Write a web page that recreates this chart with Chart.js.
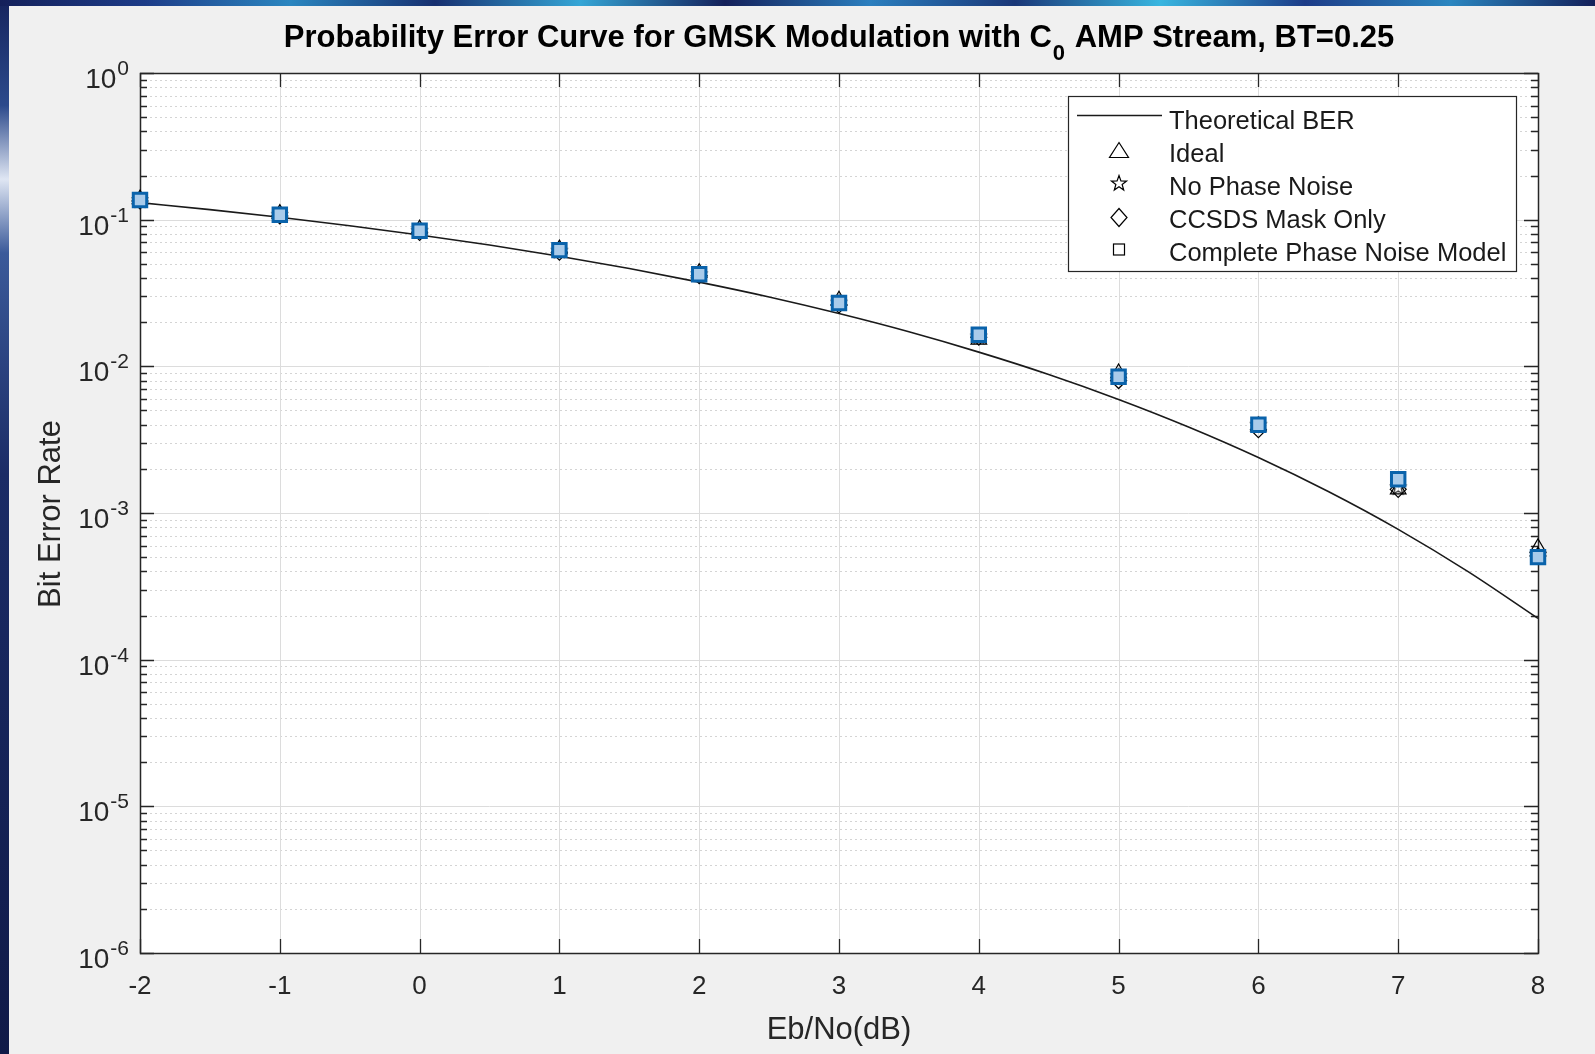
<!DOCTYPE html>
<html><head><meta charset="utf-8">
<script src="https://cdn.jsdelivr.net/npm/chart.js@4.4.1/dist/chart.umd.min.js"></script>
<style>
html,body{margin:0;padding:0;background:#f0f0f0;overflow:hidden}
#wrap{position:absolute;left:0;top:0;width:1595px;height:1054px}
</style>
</head><body>
<div id="wrap"><canvas id="c" width="1595" height="1054"></canvas></div>
<script>
// ---------- DATA ----------
const ebnoTheory = [-2,-1.5,-1,-0.5,0,0.5,1,1.5,2,2.5,3,3.5,4,4.5,5,5.5,6,6.5,7,7.5,8];
const berTheory  = [0.1306,0.1170,0.1038,0.0909,0.0786,0.0671,0.0563,0.0464,0.0375,0.0297,0.0229,0.0172,0.0125,0.0088,0.00595,0.00386,0.00239,0.00140,0.000773,0.000398,0.000191];
const ebnoSim    = [-2,-1,0,1,2,3,4,5,6,7,8];
const berIdeal        = [0.138,0.110,0.086,0.063,0.0435,0.0282,0.0152,0.0090,0.0039,0.00145,0.00058];
const berNoPhaseNoise = [0.136,0.108,0.084,0.0615,0.0425,0.0272,0.0160,0.0086,0.0040,0.00150,0.00052];
const berCcsdsMask    = [0.134,0.106,0.082,0.0600,0.0415,0.0262,0.0158,0.0080,0.0037,0.00145,0.00051];
const berComplete     = [0.136,0.108,0.084,0.0620,0.0425,0.0270,0.0164,0.0085,0.0040,0.00170,0.00050];
const xTickValues = [-2,-1,0,1,2,3,4,5,6,7,8];
const xTickLabels = ['-2','-1','0','1','2','3','4','5','6','7','8'];
const yTickExponents = [0,-1,-2,-3,-4,-5,-6];
const seriesNames = ['Theoretical BER','Ideal','No Phase Noise','CCSDS Mask Only','Complete Phase Noise Model'];
const titleMain = 'Probability Error Curve for GMSK Modulation with C';
const titleSub = '0';
const titleRest = ' AMP Stream, BT=0.25';
const xLabel = 'Eb/No(dB)';
const yLabel = 'Bit Error Rate';

const FONT = '"Liberation Sans", Arial, Helvetica, sans-serif';
const TXT = '#262626';

function pts(xs, ys){ return xs.map((x,i)=>({x:x, y:ys[i]})); }

function starPath(ctx, cx, cy, ro, ri){
  ctx.beginPath();
  for(let k=0;k<10;k++){
    const r = k%2===0 ? ro : ri;
    const a = -Math.PI/2 + k*Math.PI/5;
    const px = cx + r*Math.cos(a), py = cy + r*Math.sin(a);
    if(k===0) ctx.moveTo(px,py); else ctx.lineTo(px,py);
  }
  ctx.closePath();
}
const starCanvas = document.createElement('canvas');
starCanvas.width = 20; starCanvas.height = 20;
(function(){ const s = starCanvas.getContext('2d'); s.strokeStyle='#000'; s.lineWidth=1.1; starPath(s,10,10.5,8,3.3); s.stroke(); })();

const bgPlugin = {
  id:'bg',
  beforeDraw(chart){
    const ctx = chart.ctx, W = chart.width, H = chart.height;
    ctx.save();
    ctx.fillStyle = '#f0f0f0'; ctx.fillRect(0,0,W,H);
    const gl = ctx.createLinearGradient(0,0,0,H);
    gl.addColorStop(0,'#16245e'); gl.addColorStop(0.1,'#2c4a8c'); gl.addColorStop(0.17,'#dfe6f3');
    gl.addColorStop(0.24,'#3b5a9a'); gl.addColorStop(0.45,'#1b2c66'); gl.addColorStop(1,'#101a48');
    ctx.fillStyle = gl; ctx.fillRect(0,0,9,H);
    const gt = ctx.createLinearGradient(0,0,W,0);
    const cols = ['#14205a','#1d3c88','#2a86c0','#173070','#35a6d6','#14205a','#2b7fbf','#1a3778','#38b6e0','#1d3c88','#2a86c0','#14205a'];
    cols.forEach((c,i)=>gt.addColorStop(i/(cols.length-1), c));
    ctx.fillStyle = gt; ctx.fillRect(0,0,W,6);
    const a = chart.chartArea;
    ctx.fillStyle = '#ffffff'; ctx.fillRect(a.left,a.top,a.right-a.left,a.bottom-a.top);
    ctx.restore();
  },
  beforeDatasetsDraw(chart){
    const ctx = chart.ctx, a = chart.chartArea, xs = chart.scales.x, ys = chart.scales.y;
    ctx.save();
    ctx.lineWidth = 1;
    ctx.strokeStyle = '#d4d4d4'; ctx.setLineDash([2,3]);
    for (let e = -6; e < 0; e++) for (let m = 2; m <= 9; m++){
      const y = Math.round(ys.getPixelForValue(m*Math.pow(10,e))) + 0.5;
      ctx.beginPath(); ctx.moveTo(a.left,y); ctx.lineTo(a.right,y); ctx.stroke();
    }
    ctx.setLineDash([]);
    ctx.strokeStyle = '#dcdcdc';
    yTickExponents.forEach(e=>{
      const y = Math.round(ys.getPixelForValue(Math.pow(10,e))) + 0.5;
      ctx.beginPath(); ctx.moveTo(a.left,y); ctx.lineTo(a.right,y); ctx.stroke();
    });
    xTickValues.forEach(v=>{
      const x = Math.round(xs.getPixelForValue(v)) + 0.5;
      ctx.beginPath(); ctx.moveTo(x,a.top); ctx.lineTo(x,a.bottom); ctx.stroke();
    });
    ctx.strokeStyle = TXT; ctx.lineWidth = 1.3;
    for (let e = -6; e < 0; e++) for (let m = 2; m <= 9; m++){
      const y = Math.round(ys.getPixelForValue(m*Math.pow(10,e))) + 0.5;
      ctx.beginPath(); ctx.moveTo(a.left,y); ctx.lineTo(a.left+7,y); ctx.moveTo(a.right,y); ctx.lineTo(a.right-7,y); ctx.stroke();
    }
    yTickExponents.forEach(e=>{
      const y = Math.round(ys.getPixelForValue(Math.pow(10,e))) + 0.5;
      ctx.beginPath(); ctx.moveTo(a.left,y); ctx.lineTo(a.left+14,y); ctx.moveTo(a.right,y); ctx.lineTo(a.right-14,y); ctx.stroke();
    });
    xTickValues.forEach(v=>{
      const x = Math.round(xs.getPixelForValue(v)) + 0.5;
      ctx.beginPath(); ctx.moveTo(x,a.top); ctx.lineTo(x,a.top+14); ctx.moveTo(x,a.bottom); ctx.lineTo(x,a.bottom-14); ctx.stroke();
    });
    ctx.lineWidth = 1.5;
    ctx.strokeRect(Math.round(a.left)+0.5, Math.round(a.top)+0.5, Math.round(a.right-a.left), Math.round(a.bottom-a.top));
    // tick labels
    ctx.fillStyle = TXT;
    ctx.textBaseline = 'alphabetic';
    ctx.font = '26px ' + FONT; ctx.textAlign = 'center';
    xTickValues.forEach((v,i)=>{
      ctx.fillText(xTickLabels[i], xs.getPixelForValue(v), a.bottom + 41);
    });
    yTickExponents.forEach(e=>{
      const y = ys.getPixelForValue(Math.pow(10,e));
      ctx.font = '28px ' + FONT; const wb = ctx.measureText('10').width;
      ctx.font = '21px ' + FONT; const we = ctx.measureText(String(e)).width;
      const right = a.left - 11;
      ctx.textAlign = 'left';
      ctx.font = '28px ' + FONT; ctx.fillText('10', right - we - wb - 1, y + 15);
      ctx.font = '21px ' + FONT; ctx.fillText(String(e), right - we, y + 2);
    });
    ctx.font = '31px ' + FONT; ctx.textAlign = 'center';
    ctx.fillText(xLabel, (a.left+a.right)/2, 1039);
    ctx.save();
    ctx.translate(60, (a.top+a.bottom)/2 + 1);
    ctx.rotate(-Math.PI/2);
    ctx.fillText(yLabel, 0, 0);
    ctx.restore();
    // title
    ctx.fillStyle = '#000';
    ctx.textAlign = 'left';
    const fm = 'bold 31px ' + FONT, fs = 'bold 22px ' + FONT;
    ctx.font = fm; const w1 = ctx.measureText(titleMain).width, w3 = ctx.measureText(titleRest).width;
    ctx.font = fs; const w2 = ctx.measureText(titleSub).width + 2;
    const tx = (a.left + a.right)/2 - (w1+w2+w3)/2;
    ctx.font = fm; ctx.fillText(titleMain, tx, 47);
    ctx.font = fs; ctx.fillText(titleSub, tx + w1 + 1, 60);
    ctx.font = fm; ctx.fillText(titleRest, tx + w1 + w2, 47);
    ctx.restore();
  },
  afterDraw(chart){
    const ctx = chart.ctx;
    ctx.save();
    const L = 1068, T = 96, R = 1516, B = 271;
    ctx.fillStyle = '#fff'; ctx.fillRect(L,T,R-L,B-T);
    ctx.strokeStyle = '#262626'; ctx.lineWidth = 1.2; ctx.strokeRect(L+0.5,T+0.5,R-L,B-T);
    const mx = 1119, tx = 1169;
    const rows = [120, 152.5, 185.5, 218.5, 251.5];
    ctx.strokeStyle = '#1a1a1a'; ctx.lineWidth = 1.3;
    ctx.beginPath(); ctx.moveTo(1077, 115.5); ctx.lineTo(1162, 115.5); ctx.stroke();
    ctx.strokeStyle = '#000'; ctx.lineWidth = 1.2;
    ctx.beginPath(); ctx.moveTo(mx, rows[1]-10); ctx.lineTo(mx+9.5, rows[1]+5); ctx.lineTo(mx-9.5, rows[1]+5); ctx.closePath(); ctx.stroke();
    starPath(ctx, mx, rows[2]-2, 8, 3.3); ctx.stroke();
    ctx.beginPath(); ctx.moveTo(mx, rows[3]-10); ctx.lineTo(mx+8, rows[3]-1); ctx.lineTo(mx, rows[3]+8); ctx.lineTo(mx-8, rows[3]-1); ctx.closePath(); ctx.stroke();
    ctx.strokeRect(mx-5.5, rows[4]-7.5, 11, 11);
    ctx.fillStyle = '#1a1a1a'; ctx.font = '25.5px ' + FONT; ctx.textAlign = 'left'; ctx.textBaseline = 'alphabetic';
    seriesNames.forEach((n,i)=>ctx.fillText(n, tx, rows[i] + 9));
    ctx.restore();
  }
};

new Chart(document.getElementById('c'), {
  type: 'scatter',
  data: {
    datasets: [
      { label: seriesNames[4], data: pts(ebnoSim, berComplete), order: 0, clip: false,
        pointStyle: 'rect', pointRadius: 9.5, borderWidth: 3, borderColor: '#0a63ab', backgroundColor: '#a9cbea', showLine: false },
      { label: seriesNames[3], data: pts(ebnoSim, berCcsdsMask), order: 1, clip: false,
        pointStyle: 'rectRot', pointRadius: 8, borderWidth: 1.2, borderColor: '#000', backgroundColor: 'rgba(255,255,255,0)', showLine: false },
      { label: seriesNames[2], data: pts(ebnoSim, berNoPhaseNoise), order: 2, clip: false,
        pointStyle: starCanvas, pointRadius: 8, borderColor: '#000', backgroundColor: 'rgba(0,0,0,0)', showLine: false },
      { label: seriesNames[1], data: pts(ebnoSim, berIdeal), order: 3, clip: false,
        pointStyle: 'triangle', pointRadius: 9, borderWidth: 1.2, borderColor: '#000', backgroundColor: 'rgba(255,255,255,0)', showLine: false },
      { label: seriesNames[0], data: pts(ebnoTheory, berTheory), order: 4, showLine: true,
        borderColor: '#1a1a1a', borderWidth: 1.6, pointRadius: 0, cubicInterpolationMode: 'monotone', fill: false }
    ]
  },
  options: {
    responsive: false, animation: false, devicePixelRatio: 1,
    layout: { padding: { left: 140, top: 73, right: 57, bottom: 101 } },
    plugins: { legend: { display: false }, tooltip: { enabled: false }, title: { display: false } },
    events: [],
    scales: {
      x: { type: 'linear', min: -2, max: 8, display: false },
      y: { type: 'logarithmic', min: 1e-6, max: 1, display: false }
    }
  },
  plugins: [bgPlugin]
});
</script>
</body></html>
